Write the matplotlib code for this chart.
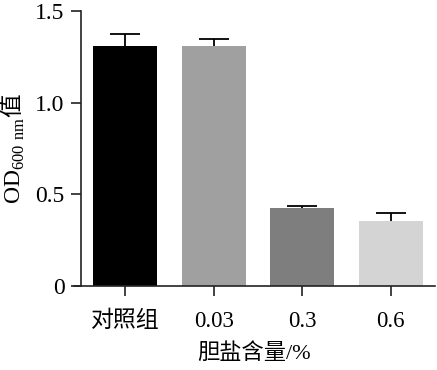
import matplotlib.pyplot as plt
import numpy as np

# === Data ===
groups = ["对照组", "0.03", "0.3", "0.6"]
od_values = [1.31, 1.31, 0.425, 0.355]
od_errors = [0.065, 0.038, 0.013, 0.045]
bar_colors = ["#000000", "#a0a0a0", "#7e7e7e", "#d4d4d4"]
y_ticks = [0, 0.5, 1.0, 1.5]
y_tick_labels = ["0", "0.5", "1.0", "1.5"]

plt.rcParams['font.family'] = ['Liberation Serif', 'Noto Sans CJK SC']
plt.rcParams['mathtext.fontset'] = 'custom'
plt.rcParams['mathtext.rm'] = 'Liberation Serif'

fig = plt.figure(figsize=(4.37, 3.70), dpi=100)
# axes box: y spine sits at x=-0.5, x axis line starts a little left of it
ax = fig.add_axes([74 / 437, 84 / 370, (435 - 74) / 437, 275 / 370])

x = np.arange(len(groups))
ax.bar(x, od_values, width=0.72, color=bar_colors, edgecolor='none', zorder=2)
_, caps, _ = ax.errorbar(x, od_values, yerr=[np.zeros(len(od_errors)), od_errors],
                         fmt='none', ecolor='black', elinewidth=1.3, capsize=10.5,
                         capthick=1.3, zorder=3)
caps[0].set_visible(False)  # upper error only

ax.set_xlim(-0.58, 3.5)
ax.set_ylim(0, 1.5)
ax.spines['left'].set_position(('data', -0.5))
ax.spines['top'].set_visible(False)
ax.spines['right'].set_visible(False)
for s in ['left', 'bottom']:
    ax.spines[s].set_linewidth(1.2)
    ax.spines[s].set_color('#222222')

ax.set_xticks(x)
ax.set_xticklabels(groups, fontsize=16.5)
ax.set_yticks(y_ticks)
ax.set_yticklabels(y_tick_labels, fontsize=17)
ax.tick_params(axis='both', direction='out', length=7, width=1.2, color='#222222')
ax.tick_params(axis='x', pad=11)
ax.tick_params(axis='y', pad=5)

ax.set_xlabel("胆盐含量/%", fontsize=16, labelpad=8)
ax.set_ylabel(r"$\mathrm{OD}_{\mathrm{600\ nm}}$值", fontsize=17,
              family='Noto Sans CJK SC', labelpad=6)

fig.savefig("out.png", dpi=100)
